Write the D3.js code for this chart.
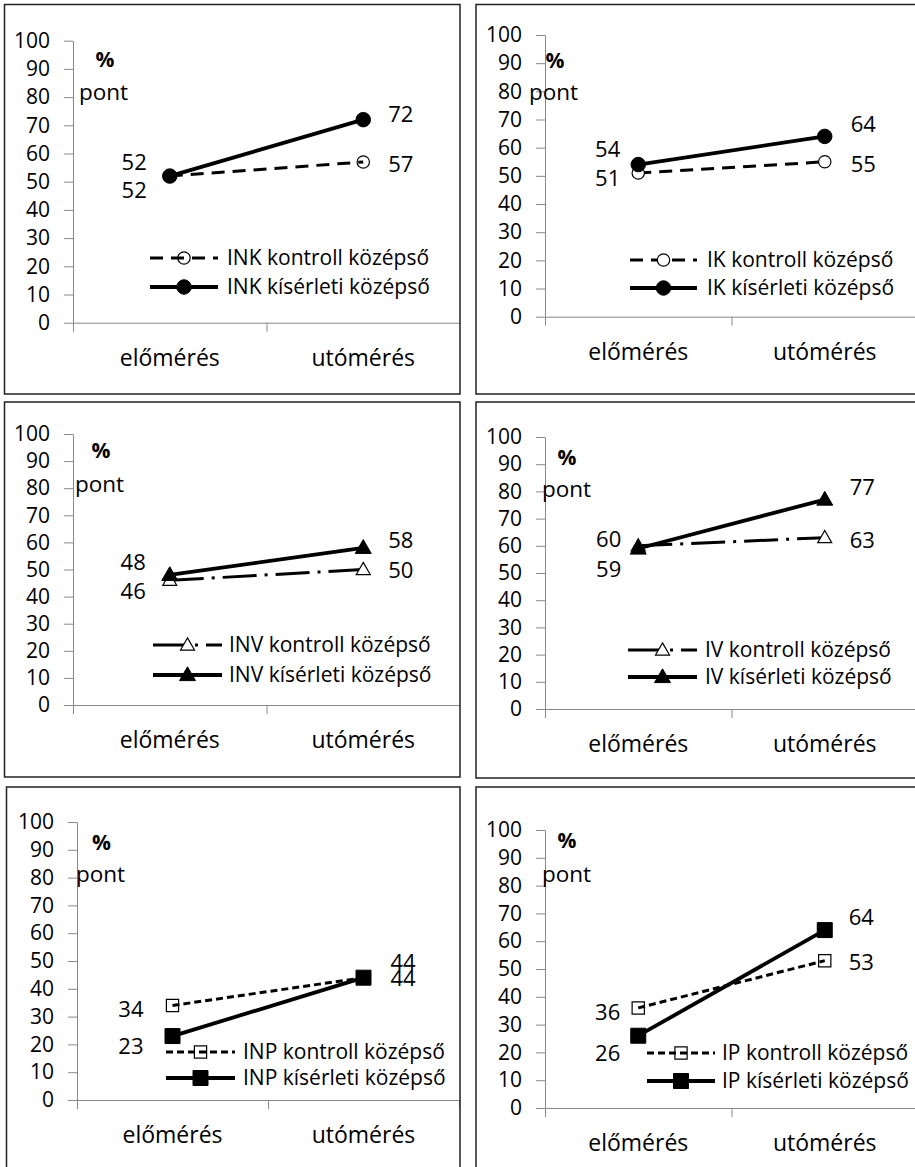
<!DOCTYPE html>
<html>
<head>
<meta charset="utf-8">
<script src="https://cdn.jsdelivr.net/npm/d3@7"></script>
<style>
  html, body { margin: 0; padding: 0; background: #fff; }
  svg { display: block; }
  text { font-family: "Open Sans", "Noto Sans", sans-serif; fill: #000; }
</style>
</head>
<body>
<svg id="chart" width="915" height="1167"></svg>
<script>
// ---------- data ----------
const categories = ["előmérés", "utómérés"];
const panelNames = ["INK", "IK", "INV", "IV", "INP", "IP"];
const kontrollValues = [[52, 57], [51, 55], [46, 50], [60, 63], [34, 44], [36, 53]];
const kiserletiValues = [[52, 72], [54, 64], [48, 58], [59, 77], [23, 44], [26, 64]];
const yTicks = [0, 10, 20, 30, 40, 50, 60, 70, 80, 90, 100];
const seriesSuffix = ["kontroll középső", "kísérleti középső"];
const unitLabels = ["%", "pont"];

// ---------- layout / style ----------
const layout = [
  { box: [4.5, 4.5, 455.5, 389.5], left: 73, top: 40.7, bottom: 322.7, width: 387,
    marker: "circle", dash: "13,8", openFill: "none",
    pct: [105, 67], pont: [79, 100],
    legend: { y: [258, 287], x0: 150, x1: 218, tx: 227 },
    lDx: -23, rDx: 25, lDy: [22, -6], rDy: [10, 2] },
  { box: [476, 4.5, 460, 389.5], left: 545, top: 35, bottom: 316.7, width: 373,
    marker: "circle", dash: "13,8", openFill: "#fff",
    pct: [555, 68], pont: [529, 100],
    legend: { y: [260, 288], x0: 630, x1: 697, tx: 707 },
    lDx: -18, rDx: 26, lDy: [13, -7.6], rDy: [10, -4] },
  { box: [4.5, 402, 455.5, 375], left: 73, top: 434, bottom: 705, width: 387,
    marker: "triangle", dash: "34,8,3,8", openFill: "#fff",
    pct: [101, 458], pont: [75, 492],
    legend: { y: [645, 675], x0: 153, x1: 222, tx: 229 },
    lDx: -24, rDx: 25, lDy: [19, -5], rDy: [8.5, 0] },
  { box: [476, 402, 460, 376], left: 545, top: 437, bottom: 709, width: 373,
    marker: "triangle", dash: "34,8,3,8", openFill: "#fff",
    pct: [567, 465], pont: [542, 497],
    legend: { y: [650, 677], x0: 628, x1: 697, tx: 705 },
    lDx: -17, rDx: 25, lDy: [1, 28], rDy: [10, -5] },
  { box: [6.5, 787, 453.5, 420], left: 77, top: 822, bottom: 1100, width: 382,
    marker: "square", dash: "7,4", openFill: "none",
    pct: [101.5, 850], pont: [76, 882],
    legend: { y: [1052, 1078], x0: 166, x1: 235, tx: 243 },
    lDx: -29, rDx: 27, lDy: [11.5, 18], rDy: [8, -8] },
  { box: [476, 787, 460, 420], left: 545, top: 830, bottom: 1108, width: 373,
    marker: "square", dash: "7,4", openFill: "none",
    pct: [567, 848], pont: [542, 882],
    legend: { y: [1053, 1081], x0: 647, x1: 715, tx: 722 },
    lDx: -18, rDx: 24, lDy: [12, 25], rDy: [9, -5] }
];

const symbolType = { circle: d3.symbolCircle, triangle: d3.symbolTriangle, square: d3.symbolSquare };
const symbolSize = {
  circle: [120, 165],
  triangle: [85, 110],
  square: [150, 225]
};
const axisColor = "#898989";
const fsTick = 21, fsLabel = 22, fsCat = 23, fsLegend = 21;

const svg = d3.select("#chart");
svg.append("rect").attr("width", 915).attr("height", 1167).attr("fill", "#fff");

panelNames.forEach((name, i) => {
  const L = layout[i];
  const g = svg.append("g");
  const clipId = "clip" + i;
  svg.append("clipPath").attr("id", clipId)
    .append("rect").attr("x", L.box[0]).attr("y", L.box[1]).attr("width", L.box[2]).attr("height", L.box[3]);
  const pg = g.append("g").attr("clip-path", `url(#${clipId})`);

  const y = d3.scaleLinear().domain([0, 100]).range([L.bottom, L.top]);
  const xb = d3.scaleLinear().domain([0, categories.length]).range([L.left, L.left + L.width]);
  const xc = d3.scaleBand().domain(categories).range([L.left, L.left + L.width]);
  const cx = c => xc(c) + xc.bandwidth() / 2;

  // y axis
  const ya = pg.append("g").attr("transform", `translate(${L.left},0)`)
    .call(d3.axisLeft(y).tickValues(yTicks).tickSize(9).tickSizeOuter(0).tickPadding(14));
  ya.select(".domain").attr("stroke", axisColor);
  ya.selectAll(".tick line").attr("stroke", axisColor);
  ya.selectAll(".tick text").attr("font-size", fsTick).attr("font-family", "Open Sans").attr("fill", "#000");

  // x axis
  const xa = pg.append("g").attr("transform", `translate(0,${L.bottom})`)
    .call(d3.axisBottom(xb).tickValues(d3.range(categories.length + 1)).tickSize(9).tickSizeOuter(0).tickFormat(""));
  xa.select(".domain").attr("stroke", axisColor);
  xa.selectAll(".tick line").attr("stroke", axisColor);

  pg.selectAll(".cat").data(categories).enter().append("text")
    .attr("x", d => cx(d)).attr("y", L.bottom + 43)
    .attr("text-anchor", "middle").attr("font-size", fsCat)
    .text(d => d);

  // unit labels
  pg.append("text").attr("x", L.pct[0]).attr("y", L.pct[1]).attr("text-anchor", "middle")
    .attr("font-size", 21).attr("font-weight", "bold").text(unitLabels[0]);
  pg.append("text").attr("x", L.pont[0]).attr("y", L.pont[1])
    .attr("font-size", 22.5).text(unitLabels[1]);

  const series = [
    { values: kontrollValues[i], dash: L.dash, width: 3, open: true },
    { values: kiserletiValues[i], dash: null, width: 3.8, open: false }
  ];

  const line = d3.line().x((d, j) => cx(categories[j])).y(d => y(d));

  series.forEach((s) => {
    pg.append("path").datum(s.values)
      .attr("d", line).attr("fill", "none").attr("stroke", "#000")
      .attr("stroke-width", s.width)
      .attr("stroke-dasharray", s.dash);
  });
  series.forEach((s, si) => {
    const sym = d3.symbol().type(symbolType[L.marker]).size(symbolSize[L.marker][si]);
    pg.selectAll(null).data(s.values).enter().append("path")
      .attr("d", sym)
      .attr("transform", (d, j) => `translate(${cx(categories[j])},${y(d) + (L.marker === "triangle" ? 1 : 0)})`)
      .attr("fill", s.open ? L.openFill : "#000")
      .attr("stroke", "#000").attr("stroke-width", s.open ? 1.2 : 1);
    // data labels
    pg.append("text").attr("x", cx(categories[0]) + L.lDx).attr("y", y(s.values[0]) + L.lDy[si])
      .attr("text-anchor", "end").attr("font-size", fsLabel).text(s.values[0]);
    pg.append("text").attr("x", cx(categories[1]) + L.rDx).attr("y", y(s.values[1]) + L.rDy[si])
      .attr("text-anchor", "start").attr("font-size", fsLabel).text(s.values[1]);
  });

  // legend
  series.forEach((s, si) => {
    const ly = L.legend.y[si];
    pg.append("line").attr("x1", L.legend.x0).attr("x2", L.legend.x1).attr("y1", ly).attr("y2", ly)
      .attr("stroke", "#000").attr("stroke-width", s.width).attr("stroke-dasharray", s.dash);
    const sym = d3.symbol().type(symbolType[L.marker]).size(symbolSize[L.marker][si]);
    pg.append("path").attr("d", sym)
      .attr("transform", `translate(${(L.legend.x0 + L.legend.x1) / 2},${ly + (L.marker === "triangle" ? 1 : 0)})`)
      .attr("fill", s.open ? L.openFill : "#000")
      .attr("stroke", "#000").attr("stroke-width", s.open ? 1.2 : 1);
    pg.append("text").attr("x", L.legend.tx).attr("y", ly).attr("dy", "0.35em")
      .attr("font-size", fsLegend).text(name + " " + seriesSuffix[si]);
  });

  // panel border
  g.append("rect").attr("x", L.box[0]).attr("y", L.box[1]).attr("width", L.box[2]).attr("height", L.box[3])
    .attr("fill", "none").attr("stroke", "#222").attr("stroke-width", 1.5);
});
</script>
</body>
</html>
